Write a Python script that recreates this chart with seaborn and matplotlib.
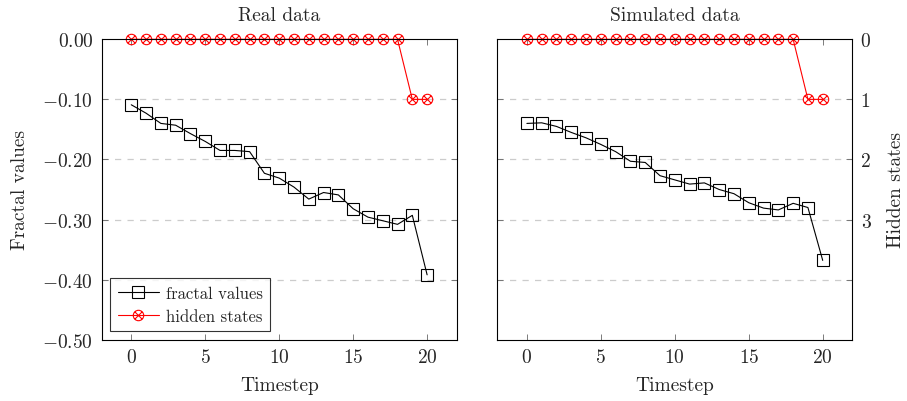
import numpy as np
import pandas as pd
import matplotlib
matplotlib.use("Agg")
import matplotlib.pyplot as plt
from matplotlib.path import Path
import seaborn as sns

timesteps = list(range(21))
real_fractal = [-0.109, -0.123, -0.140, -0.143, -0.157, -0.170, -0.185, -0.185, -0.187,
                -0.223, -0.231, -0.246, -0.266, -0.255, -0.259, -0.282, -0.296, -0.302,
                -0.308, -0.293, -0.392]
sim_fractal = [-0.140, -0.139, -0.145, -0.155, -0.164, -0.175, -0.187, -0.203, -0.205,
               -0.227, -0.234, -0.241, -0.239, -0.250, -0.257, -0.272, -0.281, -0.284,
               -0.273, -0.280, -0.368]
real_states = [0] * 19 + [1, 1]
sim_states = [0] * 19 + [1, 1]
state_scale = -0.1
left_ticks = [0.0, -0.1, -0.2, -0.3, -0.4, -0.5]
left_ticklabels = [r"$0.00$", r"$-0.10$", r"$-0.20$", r"$-0.30$", r"$-0.40$", r"$-0.50$"]
right_ticklabels = ["0", "1", "2", "3", "", ""]
x_ticks = [0, 5, 10, 15, 20]

sns.set_style("white")
plt.rcParams["font.family"] = ["cmr10", "DejaVu Serif"]
plt.rcParams["mathtext.fontset"] = "cm"
plt.rcParams["axes.formatter.use_mathtext"] = True

FS = 14

# circle-with-cross marker (otimes)
circ = Path.unit_circle()
d = np.sqrt(0.5)
cross = Path([(-d, -d), (d, d), (-d, d), (d, -d)],
             [Path.MOVETO, Path.LINETO, Path.MOVETO, Path.LINETO])
otimes = Path.make_compound_path(circ, cross)

fig = plt.figure(figsize=(9.07, 4.02), dpi=100)
ax1 = fig.add_axes([101.7 / 907, 1 - 340.7 / 402, 355 / 907, 300.4 / 402])
ax2 = fig.add_axes([497.3 / 907, 1 - 340.7 / 402, 355 / 907, 300.4 / 402])

def draw(ax, frac, states, title):
    df = pd.DataFrame({"t": timesteps, "f": frac,
                       "s": [s * state_scale for s in states]})
    for yv in [-0.1, -0.2, -0.3, -0.4]:
        ax.axhline(yv, color="#cccccc", lw=0.9, ls=(0, (5, 5)), zorder=0)
    sns.lineplot(data=df, x="t", y="f", ax=ax, color="black", lw=0.8,
                 marker="s", markersize=8, markerfacecolor="none",
                 markeredgecolor="black", markeredgewidth=0.8,
                 label="fractal values")
    sns.lineplot(data=df, x="t", y="s", ax=ax, color="red", lw=0.8,
                 marker=otimes, markersize=7.5, markerfacecolor="none",
                 markeredgecolor="red", markeredgewidth=0.8,
                 label="hidden states", clip_on=False)
    ax.set_xlim(-2, 22)
    ax.set_ylim(-0.5, 0.0)
    ax.set_xticks(x_ticks)
    ax.set_yticks(left_ticks)
    ax.set_title(title, fontsize=FS, pad=14)
    ax.set_xlabel("Timestep", fontsize=FS, labelpad=7)
    ax.tick_params(direction="in", top=True, right=True, left=True, bottom=True,
                   length=4, width=0.6, color="#666666", labelsize=FS, pad=6)
    for sp in ax.spines.values():
        sp.set_linewidth(0.8)
        sp.set_color("black")
        sp.set_visible(True)

draw(ax1, real_fractal, real_states, "Real data")
draw(ax2, sim_fractal, sim_states, "Simulated data")

ax1.set_yticklabels(left_ticklabels)
ax1.set_ylabel("Fractal values", fontsize=FS, labelpad=10)
leg = ax1.legend(loc="lower left", frameon=True, fancybox=False, fontsize=12,
                 edgecolor="black", handlelength=2.5, borderaxespad=0.5,
                 borderpad=0.45, labelspacing=0.45, handletextpad=0.4)
leg.get_frame().set_linewidth(0.8)

ax2.get_legend().remove()
ax2.set_yticklabels(right_ticklabels)
ax2.tick_params(labelleft=False, labelright=True)
ax2.yaxis.set_label_position("right")
ax2.set_ylabel("Hidden states", fontsize=FS, labelpad=12)

fig.savefig("out.png", dpi=100)
